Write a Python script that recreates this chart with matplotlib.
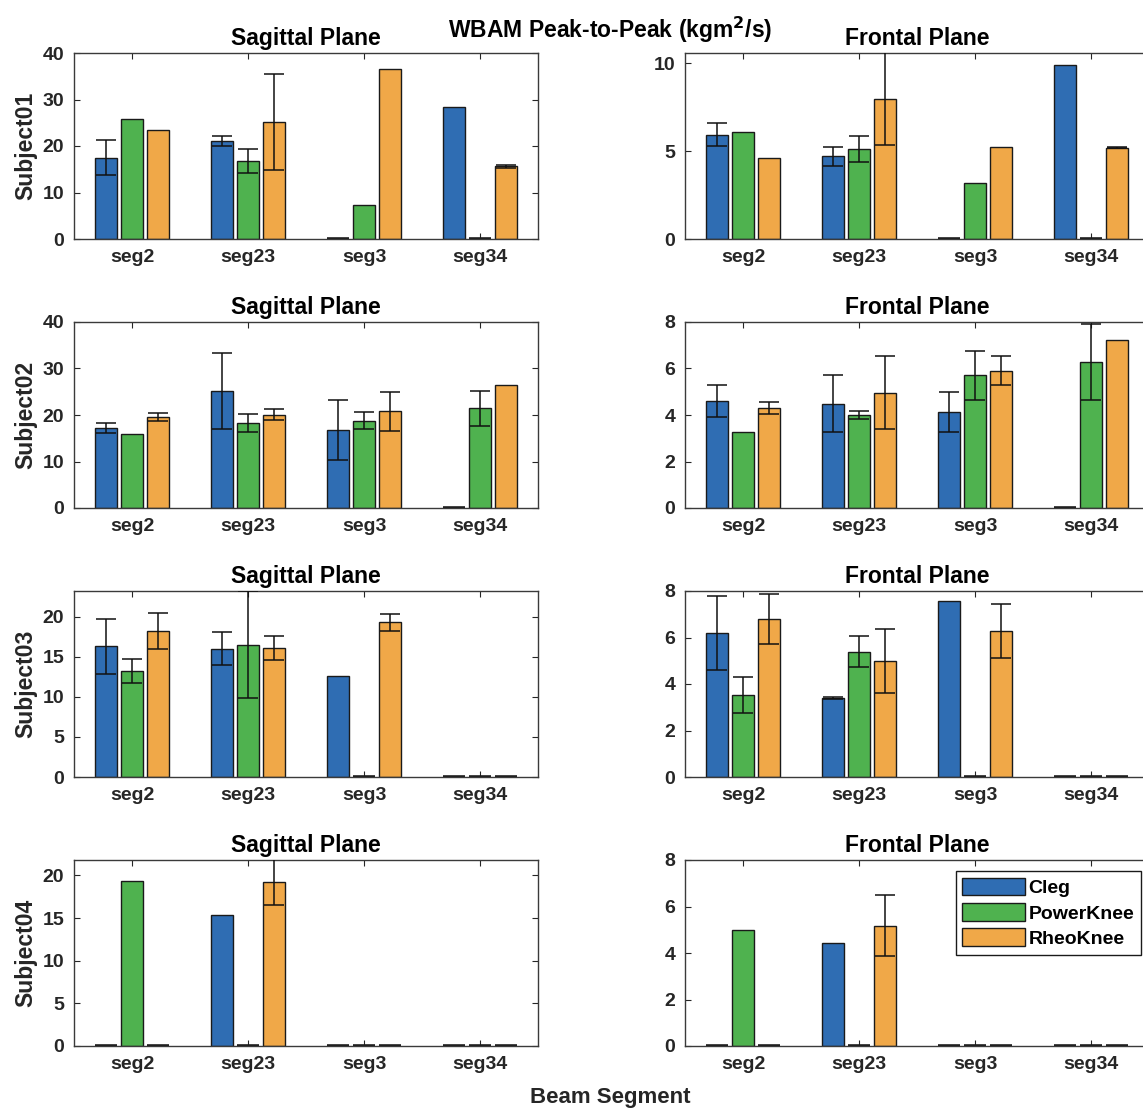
import numpy as np
import matplotlib.pyplot as plt
from matplotlib.patches import Patch

nan = np.nan

segments = ['seg2', 'seg23', 'seg3', 'seg34']
legs = ['Cleg', 'PowerKnee', 'RheoKnee']
subjects = ['Subject01', 'Subject02', 'Subject03', 'Subject04']

# rows: Cleg, PowerKnee, RheoKnee ; columns: seg2, seg23, seg3, seg34
s01_sag = [[17.5, 21.0, 0.0, 28.3], [25.8, 16.8, 7.3, 0.0], [23.5, 25.1, 36.5, 15.6]]
s01_sag_err = [[3.8, 1.05, nan, nan], [nan, 2.6, nan, nan], [nan, 10.35, nan, 0.3]]
s01_fro = [[5.93, 4.71, 0.0, 9.9], [6.10, 5.11, 3.17, 0.0], [4.62, 7.97, 5.23, 5.19]]
s01_fro_err = [[0.66, 0.54, nan, nan], [nan, 0.76, nan, nan], [nan, 2.64, nan, 0.04]]

s02_sag = [[17.2, 25.2, 16.7, 0.0], [16.0, 18.3, 18.8, 21.4], [19.6, 20.1, 20.8, 26.5]]
s02_sag_err = [[1.15, 8.15, 6.45, nan], [nan, 1.85, 1.75, 3.7], [0.85, 1.1, 4.15, nan]]
s02_fro = [[4.61, 4.49, 4.12, 0.0], [3.27, 4.0, 5.70, 6.28], [4.31, 4.95, 5.91, 7.24]]
s02_fro_err = [[0.70, 1.22, 0.87, nan], [nan, 0.16, 1.06, 1.64], [0.27, 1.57, 0.64, nan]]

s03_sag = [[16.3, 16.0, 12.6, 0.0], [13.2, 16.5, 0.0, 0.0], [18.2, 16.1, 19.3, 0.0]]
s03_sag_err = [[3.45, 2.05, nan, nan], [1.5, 6.7, nan, nan], [2.2, 1.5, 1.05, nan]]
s03_fro = [[6.2, 3.40, 7.58, 0.0], [3.53, 5.38, 0.0, 0.0], [6.79, 4.99, 6.28, 0.0]]
s03_fro_err = [[1.58, 0.05, nan, nan], [0.77, 0.67, nan, nan], [1.06, 1.38, 1.16, nan]]

s04_sag = [[0.0, 15.3, 0.0, 0.0], [19.36, 0.0, 0.0, 0.0], [0.0, 19.2, 0.0, 0.0]]
s04_sag_err = [[nan, nan, nan, nan], [nan, nan, nan, nan], [nan, 2.7, nan, nan]]
s04_fro = [[0.0, 4.41, 0.0, 0.0], [4.98, 0.0, 0.0, 0.0], [0.0, 5.17, 0.0, 0.0]]
s04_fro_err = [[nan, nan, nan, nan], [nan, nan, nan, nan], [nan, 1.32, nan, nan]]

sag_data = [(s01_sag, s01_sag_err), (s02_sag, s02_sag_err), (s03_sag, s03_sag_err), (s04_sag, s04_sag_err)]
fro_data = [(s01_fro, s01_fro_err), (s02_fro, s02_fro_err), (s03_fro, s03_fro_err), (s04_fro, s04_fro_err)]

sag_ylim = [40, 40, 23.2, 21.8]
fro_ylim = [10.57, 8, 8, 8]
sag_ticks = [[0, 10, 20, 30, 40], [0, 10, 20, 30, 40], [0, 5, 10, 15, 20], [0, 5, 10, 15, 20]]
fro_ticks = [[0, 5, 10], [0, 2, 4, 6, 8], [0, 2, 4, 6, 8], [0, 2, 4, 6, 8]]

colors = ['#2f6db3', '#4fb24f', '#f0a848']
dark = '#262626'

plt.rcParams['font.family'] = ['Liberation Sans', 'DejaVu Sans']
plt.rcParams['font.weight'] = 'bold'

fig = plt.figure(figsize=(11.43, 11.10), dpi=100)

W, H = 1143.0, 1110.0
bottoms = [239, 508, 777, 1046]
ax_h = 186
lefts = [74, 685]
ax_w = 464


def draw(ax, means, errs, ylim, yticks, title):
    x = np.arange(1, 5)
    offs = [-0.225, 0.0, 0.225]
    for k in range(3):
        m = np.array(means[k])
        e = np.array(errs[k])
        # empty bars show up as a short thick dash, like in the original
        lw = [2.6 if v == 0 else 1.0 for v in m]
        ax.bar(x + offs[k], m, width=0.19, color=colors[k], edgecolor='#1a1a1a',
               linewidth=lw, zorder=2)
        ok = ~np.isnan(e)
        if ok.any():
            ax.errorbar((x + offs[k])[ok], m[ok], yerr=e[ok], fmt='none', ecolor='#111111',
                        elinewidth=1.1, capsize=7, capthick=1.1, zorder=3)
    ax.set_xlim(0.5, 4.5)
    ax.set_ylim(0, ylim)
    ax.set_xticks(x)
    ax.set_xticklabels(segments)
    ax.set_yticks(yticks)
    ax.tick_params(direction='in', top=True, right=True, length=4, width=0.8,
                   colors=dark, labelsize=14, pad=7)
    for lab in ax.get_xticklabels() + ax.get_yticklabels():
        lab.set_fontweight('bold')
    for sp in ax.spines.values():
        sp.set_color('#3a3a3a')
        sp.set_linewidth(1.0)
    ax.set_title(title, fontsize=16.5, fontweight='bold', pad=6)


for r in range(4):
    b = 1 - bottoms[r] / H
    ax1 = fig.add_axes([lefts[0] / W, b, ax_w / W, ax_h / H])
    draw(ax1, sag_data[r][0], sag_data[r][1], sag_ylim[r], sag_ticks[r], 'Sagittal Plane')
    ax1.set_ylabel(subjects[r], fontsize=16.5, fontweight='bold', color=dark)
    ax1.yaxis.set_label_coords(-0.08, 0.5)

    ax2 = fig.add_axes([lefts[1] / W, b, ax_w / W, ax_h / H])
    draw(ax2, fro_data[r][0], fro_data[r][1], fro_ylim[r], fro_ticks[r], 'Frontal Plane')
    if r == 3:
        handles = [Patch(facecolor=colors[k], edgecolor='#1a1a1a', linewidth=1.0, label=legs[k])
                   for k in range(3)]
        leg = ax2.legend(handles=handles, loc='upper right', bbox_to_anchor=(0.983, 0.94),
                         borderaxespad=0, fancybox=False, edgecolor='#1a1a1a', framealpha=1,
                         prop={'weight': 'bold', 'size': 14}, handlelength=3.2,
                         handleheight=1.0, handletextpad=0.2, labelspacing=0.3,
                         borderpad=0.35)
        leg.get_frame().set_linewidth(1.0)

fig.text(610 / W, 1 - 30 / H, 'WBAM Peak-to-Peak (kgm$^\\mathbf{2}$/s)', ha='center', va='center',
         fontsize=16.5, fontweight='bold')
fig.text(610 / W, 1 - 1097 / H, 'Beam Segment', ha='center', va='center',
         fontsize=16, fontweight='bold', color=dark)

fig.savefig('out.png', dpi=100)
